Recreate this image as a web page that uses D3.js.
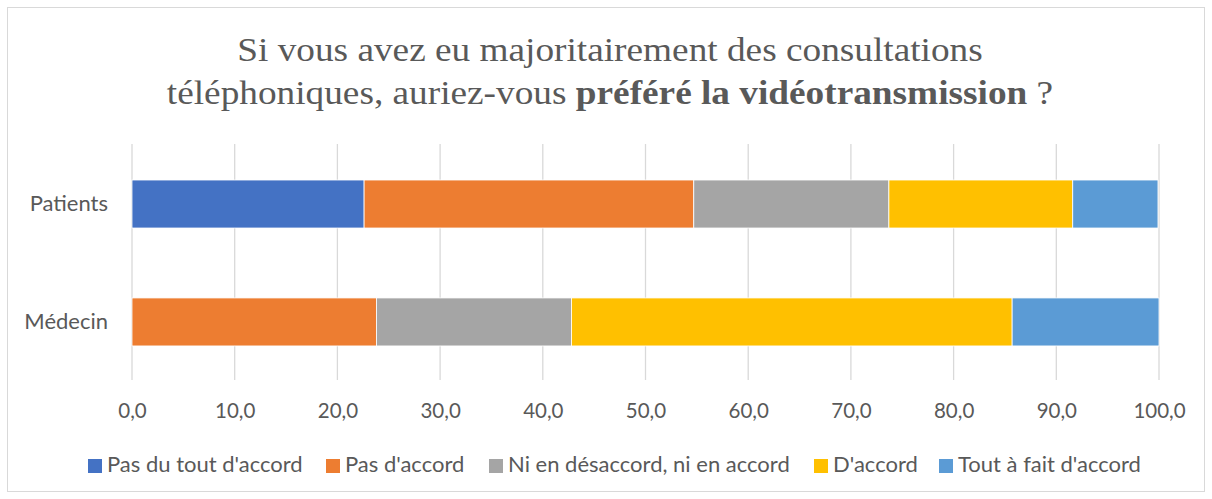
<!DOCTYPE html>
<html>
<head>
<meta charset="utf-8">
<script src="https://cdn.jsdelivr.net/npm/d3@7"></script>
<style>
  body { margin: 0; background: #fff; }
  svg { display: block; }
</style>
</head>
<body>
<div id="chart"></div>
<script>
var categories = ["Patients", "Médecin"];
var seriesNames = ["Pas du tout d'accord", "Pas d'accord", "Ni en désaccord, ni en accord", "D'accord", "Tout à fait d'accord"];
var seriesColors = ["#4472c4", "#ed7d31", "#a5a5a5", "#ffc000", "#5b9bd5"];
var patientsValues = [22.6, 32.1, 19.0, 17.9, 8.3];
var medecinValues = [0.0, 23.8, 19.0, 42.9, 14.3];
var tickValues = [0, 10, 20, 30, 40, 50, 60, 70, 80, 90, 100];

var width = 1212, height = 499;
var margin = { top: 144, right: 53, bottom: 119, left: 132 };
var innerWidth = width - margin.left - margin.right,
  innerHeight = height - margin.top - margin.bottom;

var rows = categories.map(function(c, i) {
  var vals = i === 0 ? patientsValues : medecinValues;
  var row = { cat: c };
  seriesNames.forEach(function(s, j) { row[s] = vals[j]; });
  return row;
});

var stacked = d3.stack().keys(seriesNames)(rows);

var svg = d3.select("#chart").append("svg")
  .attr("width", width)
  .attr("height", height);

// chart frame
svg.append("rect")
  .attr("x", 7.5).attr("y", 7.5)
  .attr("width", width - 15).attr("height", height - 15)
  .attr("fill", "#fff")
  .attr("stroke", "#d9d9d9");

// title (Times-like, a bit stretched as in the reference)
var title = svg.append("text")
  .attr("transform", "translate(610,0) scale(1.13,1)")
  .attr("text-anchor", "middle")
  .attr("font-family", "'Liberation Serif', 'Times New Roman', serif")
  .attr("font-size", 33)
  .attr("fill", "#595959");
title.append("tspan").attr("x", 0).attr("y", 61)
  .text("Si vous avez eu majoritairement des consultations");
var l2 = title.append("tspan").attr("x", 0).attr("y", 104);
l2.append("tspan").text("téléphoniques, auriez-vous ");
l2.append("tspan").attr("font-weight", "bold").text("préféré la vidéotransmission");
l2.append("tspan").text(" ?");

var g = svg.append("g")
  .attr("transform", "translate(" + margin.left + "," + margin.top + ")");

var xScale = d3.scaleLinear().domain([0, 100]).range([0, innerWidth]);
var yScale = d3.scaleBand().domain(categories).range([0, innerHeight])
  .paddingInner(0.593).paddingOuter(0.297).align(0.514);

// gridlines
g.append("g")
  .selectAll("line")
  .data(tickValues)
  .enter().append("line")
  .attr("x1", function(d) { return xScale(d); })
  .attr("x2", function(d) { return xScale(d); })
  .attr("y1", 0)
  .attr("y2", innerHeight)
  .attr("stroke", "#d9d9d9")
  .attr("stroke-width", 1.3);

// bars
g.selectAll(".series")
  .data(stacked)
  .enter().append("g")
  .attr("class", "series")
  .attr("fill", function(d, i) { return seriesColors[i]; })
  .selectAll("rect")
  .data(function(d) { return d; })
  .enter().append("rect")
  .attr("x", function(d) { return xScale(d[0]); })
  .attr("y", function(d) { return yScale(d.data.cat); })
  .attr("width", function(d) { return xScale(d[1]) - xScale(d[0]); })
  .attr("height", yScale.bandwidth())
  .attr("stroke", "#fff")
  .attr("stroke-width", function(d) { return d[1] - d[0] > 0 ? 0.8 : 0; });

// x axis
var xAxis = g.append("g")
  .attr("transform", "translate(0," + innerHeight + ")")
  .call(d3.axisBottom(xScale).tickValues(tickValues).tickSize(0)
    .tickFormat(function(d) { return d3.format(".1f")(d).replace(".", ","); }));
xAxis.select(".domain").remove();
xAxis.selectAll("text")
  .attr("y", 38)
  .attr("dy", 0)
  .attr("font-family", "Lato, 'Open Sans', sans-serif")
  .attr("font-size", 20.5)
  .attr("fill", "#595959");

// y axis
var yAxis = g.append("g")
  .call(d3.axisLeft(yScale).tickSize(0).tickPadding(24));
yAxis.select(".domain").remove();
yAxis.selectAll("text")
  .attr("dy", "0.3em")
  .attr("font-family", "Lato, 'Open Sans', sans-serif")
  .attr("font-size", 22)
  .attr("fill", "#595959");

// legend
var legendX = [88, 326, 489, 814, 939];
var legend = svg.append("g");
seriesNames.forEach(function(s, i) {
  legend.append("rect")
    .attr("x", legendX[i]).attr("y", 459)
    .attr("width", 14).attr("height", 14)
    .attr("fill", seriesColors[i]);
  legend.append("text")
    .attr("x", legendX[i] + 19).attr("y", 472)
    .attr("font-family", "Lato, 'Open Sans', sans-serif")
    .attr("font-size", 22)
    .attr("fill", "#595959")
    .text(s);
});
</script>
</body>
</html>
